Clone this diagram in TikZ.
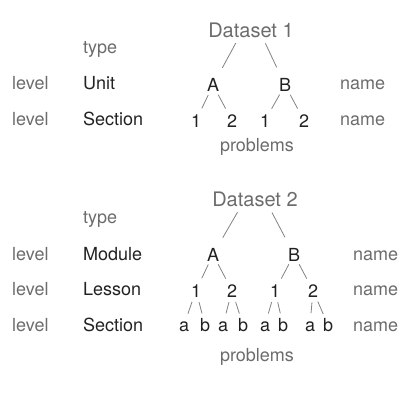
\documentclass[tikz,border=0pt]{standalone}
\usepackage{fontspec}
\setmainfont{TeX Gyre Heros}
\definecolor{labelgray}{RGB}{108,108,108}
\definecolor{textdark}{RGB}{34,34,34}
\definecolor{linegray}{RGB}{130,130,130}

\begin{document}
\begin{tikzpicture}[x=1pt,y=-1pt,
  every node/.style={inner sep=0pt,font=\fontsize{18}{20}\selectfont},
  side/.style={anchor=base west,text=labelgray},
  kind/.style={anchor=base west,text=textdark},
  tree/.style={anchor=base,text=textdark,text height=13pt,text depth=0pt},
  title/.style={anchor=base,text=labelgray,text height=14.4pt,text depth=0pt,font=\fontsize{20}{24}\selectfont},
  trunk/.style={draw=linegray,line width=0.8pt,shorten <=15pt,shorten >=19.5pt},
  twig/.style={draw=linegray,line width=0.8pt,shorten <=11pt,shorten >=13.5pt},
  leaf/.style={draw=linegray,line width=0.8pt,shorten <=12pt,shorten >=12pt}]
  \useasboundingbox (0,0) rectangle (411,400);
  % first dataset: units and sections
  \node[title] (ds1) at (251,37) {Dataset 1};
  \node[side] (ty1) at (83,53) {type};
  \node[side] (lvu) at (12,89) {level};  \node[kind] (unit) at (83,89) {Unit};     \node[side] (nmu) at (340,89) {name};
  \node[side] (lvs) at (12,125) {level}; \node[kind] (sect) at (83,125) {Section}; \node[side] (nms) at (340,125) {name};
  \node[tree] (ua) at (213,91.5) {A};  \node[tree] (ub) at (285,91.5) {B};
  \node[tree] (ua1) at (196,127) {1};  \node[tree] (ua2) at (232,127) {2};
  \node[tree] (ub1) at (265,127) {1};  \node[tree] (ub2) at (304,127) {2};
  \node[anchor=base,text=labelgray] (pr1) at (257,151.5) {problems};
  \draw[trunk] ([xshift=-8pt]ds1.center) -- (ua.center);
  \draw[trunk] ([xshift=8pt]ds1.center) -- (ub.center);
  \draw[twig] (ua.center) -- (ua1.center); \draw[twig] (ua.center) -- (ua2.center);
  \draw[twig] (ub.center) -- (ub1.center); \draw[twig] (ub.center) -- (ub2.center);

  % second dataset: modules, lessons and sections
  \node[title] (ds2) at (255,206.5) {Dataset 2};
  \node[side] (ty2) at (83,223) {type};
  \node[side] (lvm) at (12,260) {level};  \node[kind] (modl) at (83,260) {Module};  \node[side] (nmm) at (353,260) {name};
  \node[side] (lvl) at (12,295) {level};  \node[kind] (lssn) at (83,295) {Lesson};  \node[side] (nml) at (353,295) {name};
  \node[side] (lvt) at (12,331) {level};  \node[kind] (sec2) at (83,331) {Section}; \node[side] (nmt) at (353,331) {name};
  \node[tree] (ma) at (213,261) {A};  \node[tree] (mb) at (294,261) {B};
  \node[tree] (ma1) at (196,297) {1}; \node[tree] (ma2) at (232,297) {2};
  \node[tree] (mb1) at (275,297) {1}; \node[tree] (mb2) at (313,297) {2};
  \node[anchor=base,text=labelgray] (pr2) at (257,361.5) {problems};
  \draw[trunk] ([xshift=-10pt]ds2.center) -- (ma.center);
  \draw[trunk] ([xshift=10pt]ds2.center) -- (mb.center);
  \draw[twig] (ma.center) -- (ma1.center); \draw[twig] (ma.center) -- (ma2.center);
  \draw[twig] (mb.center) -- (mb1.center); \draw[twig] (mb.center) -- (mb2.center);
  \foreach \p/\xa/\xb in {ma1/184/205,ma2/223/243,mb1/265/283,mb2/310/328}{
    \node[tree] (\p-a) at (\xa,331.5) {a};
    \node[tree] (\p-b) at (\xb,331.5) {b};
    \draw[leaf] (\p.center) -- (\p-a.center);
    \draw[leaf] (\p.center) -- (\p-b.center);
  }
\end{tikzpicture}
\end{document}
